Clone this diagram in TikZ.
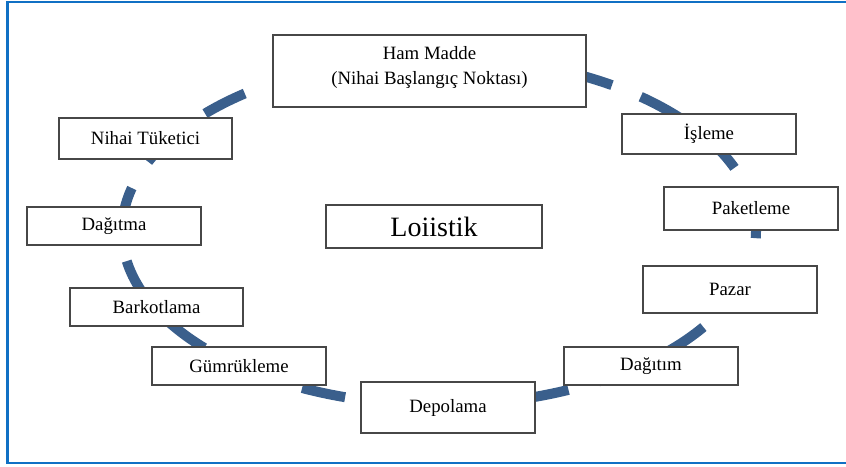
\documentclass[tikz,border=0pt]{standalone}
\usepackage{fontspec}
\setmainfont{Liberation Serif}
\definecolor{ringblue}{RGB}{58,95,140}
\definecolor{frameblue}{RGB}{16,112,196}
\begin{document}
\begin{tikzpicture}[x=1pt,y=1pt,
  stage/.style={draw=black!72, line width=1.1pt, fill=white, inner sep=0pt,
    align=center, font=\fontsize{18.8}{25}\selectfont},
  ring/.style={draw=ringblue, line width=10pt, dash pattern=on 44pt off 31pt}]
\useasboundingbox (0,0) rectangle (846,-466);
% outer frame, running past the right edge
\begin{scope}
  \clip (0,0) rectangle (846,-466);
  \draw[frameblue, line width=2.2pt] (7.5,-2) rectangle (870,-463);
\end{scope}
% dashed cycle behind the stages
\coordinate (hub) at (439,-231);
\draw[ring] (hub) ++(127.9:317 and 174)
  arc[start angle=127.9, end angle=487.9, x radius=317, y radius=174];
% stages
\node[stage, minimum width=313, minimum height=72] (ham) at (429.5,-71) {};
\node[align=center, inner sep=0pt, font=\fontsize{18.8}{25}\selectfont] (hamtext)
  at ([yshift=3]ham.center) {Ham Madde\\(Nihai Başlangıç Noktası)};
\node[stage, minimum width=173, minimum height=41] (tuketici) at (145.5,-138.5) {Nihai Tüketici};
\node[stage, minimum width=174, minimum height=40] (isleme) at (709,-134) {İşleme};
\node[stage, minimum width=174, minimum height=43] (paket) at (751,-208.5) {Paketleme};
\node[stage, minimum width=174, minimum height=38] (dagitma) at (114,-226) {Dağıtma};
\node[stage, minimum width=216, minimum height=43, font=\fontsize{28}{32}\selectfont] (lojistik) at (434,-226.5) {Loiistik};
\node[stage, minimum width=173, minimum height=38] (barkod) at (156.5,-307) {Barkotlama};
\node[stage, minimum width=174, minimum height=38] (gumruk) at (239,-366) {Gümrükleme};
\node[stage, minimum width=174, minimum height=51] (depo) at (448,-407.5) {Depolama};
\node[stage, minimum width=174, minimum height=38] (dagitim) at (651,-366) {Dağıtım};
\node[stage, minimum width=174, minimum height=47] (pazar) at (730,-289.5) {Pazar};
\end{tikzpicture}
\end{document}
